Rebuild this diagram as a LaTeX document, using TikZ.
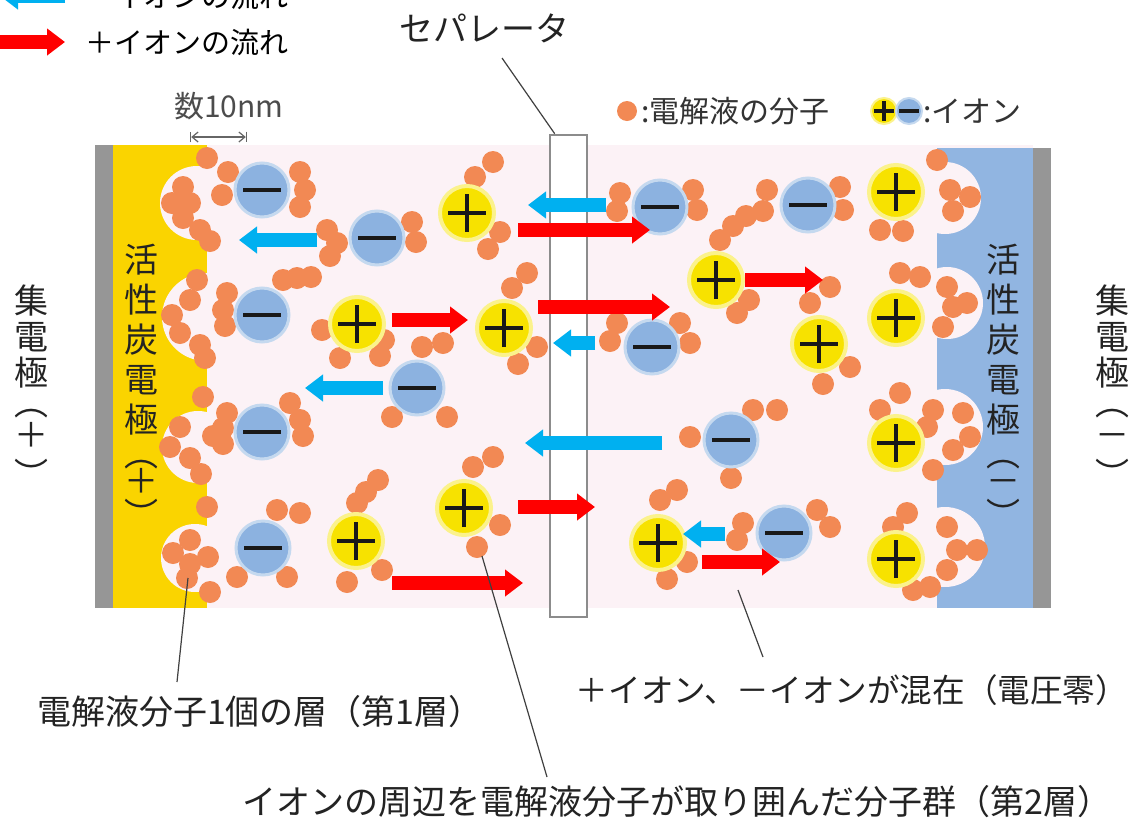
\documentclass[tikz,border=0pt]{standalone}
\usepackage{fontspec}
\setmainfont{Noto Sans CJK JP}
\usetikzlibrary{arrows.meta}

\definecolor{panelpink}{RGB}{252,242,246}
\definecolor{carbonyel}{RGB}{250,212,0}
\definecolor{carbonblue}{RGB}{145,181,225}
\definecolor{collgray}{RGB}{150,150,150}
\definecolor{molorange}{RGB}{242,137,84}
\definecolor{ionyel}{RGB}{247,226,0}
\definecolor{ionblue}{RGB}{140,178,224}
\definecolor{flowred}{RGB}{255,0,0}
\definecolor{flowblue}{RGB}{0,176,240}
\definecolor{inkgray}{RGB}{35,35,35}

\tikzset{
  ion arm/.store in=\ionarm, ion arm=9.5pt,
  ion bar/.style={line width=2.3pt, black!90},
  cation/.style={circle, inner sep=0pt, minimum size=27pt, fill=ionyel, draw=ionyel!45, line width=2pt,
    path picture={\draw[ion bar] ([xshift=-\ionarm]path picture bounding box.center) -- ([xshift=\ionarm]path picture bounding box.center)
      ([yshift=-\ionarm]path picture bounding box.center) -- ([yshift=\ionarm]path picture bounding box.center);}},
  anion/.style={circle, inner sep=0pt, minimum size=27pt, fill=ionblue, draw=ionblue!50, line width=1.5pt,
    path picture={\draw[ion bar] ([xshift=-\ionarm]path picture bounding box.center) -- ([xshift=\ionarm]path picture bounding box.center);}},
  mol/.style={circle, inner sep=0pt, minimum size=11pt, fill=molorange},
  posflow/.style={draw=flowred, line width=7pt, -{Triangle[length=9pt,width=13pt]}},
  negflow/.style={draw=flowblue, line width=7pt, -{Triangle[length=9pt,width=13pt]}},
  sepbox/.style={draw=black!45, line width=1.3pt, fill=white, minimum width=18.5pt, minimum height=241pt, inner sep=0pt},
  leader/.style={draw=black!75, line width=0.6pt},
  lbl/.style={text=inkgray, inner sep=1pt, font=\fontsize{17}{20}\selectfont},
  keylbl/.style={text=black, inner sep=1pt, anchor=west, font=\fontsize{14.5}{17}\selectfont},
  vlbl/.style={text=inkgray, align=center, inner sep=0pt, font=\fontsize{17}{18}\selectfont},
  vcarb/.style={vlbl, font=\fontsize{17}{20}\selectfont},
}

\begin{document}
\begin{tikzpicture}[x=0.5pt,y=-0.5pt]
\useasboundingbox (0,0) rectangle (1132,831);
\fill[white] (0,0) rectangle (1132,831);

% cell
\fill[panelpink] (113,145) rectangle (1033,608);
\fill[collgray] (95,145) rectangle (113,608);
\fill[collgray] (1033,148) rectangle (1051,608);
\fill[carbonyel] (113,145) rectangle (207,608);
\fill[carbonblue] (937,148) rectangle (1033,608);
\begin{scope}
  \clip (113,145) rectangle (207,608);
  \foreach \cx/\cy/\r in {197/203/18.5pt, 206/317/22pt, 198/447/18pt, 195/558/17pt}
    \fill[panelpink] (\cx,\cy) circle[radius=\r];
\end{scope}
\begin{scope}
  \clip (937,148) rectangle (1033,608);
  \foreach \cx/\cy/\r in {945/198/18pt, 947/303/18pt, 945/427/19pt, 945/547/20pt}
    \fill[panelpink] (\cx,\cy) circle[radius=\r];
\end{scope}

\node[sepbox] (sep) at (568.5,376) {};

% electrolyte molecules
\foreach \x/\y [count=\i] in {
  207/158,228/172,222/195,183/187,172/203,190/203,183/218,200/230,210/241,
  300/172,305/190,300/207,
  327/230,337/243,330/256,412/222,416/242,
  227/293,223/310,225/326,283/280,297/278,311/277,
  197/280,190/300,172/315,180/333,200/345,205/358,
  322/330,340/358,384/340,380/356,
  422/347,443/343,392/417,447/417,
  203/397,180/427,170/447,190/458,201/474,213/436,
  227/413,223/428,223/444,290/403,300/420,303/436,
  207/507,190/540,173/553,190/564,208/557,187/578,210/592,
  277/510,300/513,237/577,287/577,
  378/480,366/492,357/503,347/582,382/570,
  493/162,475/177,500/232,488/249,
  527/273,512/288,537/347,518/364,
  620/193,617/211,693/190,697/210,
  720/240,733/226,746/216,737/313,749/300,
  617/323,610/341,680/323,690/343,
  690/437,731/478,753/410,777/410,
  473/467,493/457,500/525,477/547,
  660/500,677/490,687/562,667/579,
  743/523,737/540,817/510,830/527,
  767/190,763/211,840/187,843/210,
  880/230,903/231,937/160,950/190,953/211,970/197,
  830/287,810/303,823/384,850/367,
  900/273,920/277,947/287,953/307,943/327,967/303,
  900/393,880/410,933/410,927/427,963/413,953/450,933/470,970/437,
  907/513,893/527,947/527,957/550,977/550,913/590,930/587,947/570}
  \node[mol] (mol\i) at (\x,\y) {};

% ions
\foreach \x/\y [count=\i] in {262/190,377/238,262/315,417/388,262/432,263/548,
  660/207,652/347,731/440,784/533,808/205}
  \node[anion] (an\i) at (\x,\y) {};
\foreach \x/\y [count=\i] in {467/213,357/324,504/328,464/508,356/541,716/280,
  819/344,658/543,896/192,896/318,896/443,896/559}
  \node[cation] (cat\i) at (\x,\y) {};

% ion flow
\foreach \xa/\xb/\y in {518/650/230, 392/468/320, 538/670/307, 745/823/280,
  518/595/507, 392/523/583, 702/780/562}
  \draw[posflow] (\xa,\y) -- (\xb,\y);
\foreach \xa/\xb/\y in {606/528/205, 317/239/240, 595/553/343, 383/305/388,
  662/525/443, 725/683/534}
  \draw[negflow] (\xa,\y) -- (\xb,\y);

% keys
\node[keylbl] (negkey) at (83,-4) {－イオンの流れ};
\node[keylbl] (poskey) at (83,42) {＋イオンの流れ};
\draw[negflow] (65,-4) -- (0,-4);
\draw[posflow] (0,42) -- (65,42);

\node[mol, minimum size=10pt] (keymol) at (627,111) {};
\node[keylbl, text=black!80, font=\fontsize{15}{18}\selectfont] (keymoltxt) at (639,111) {:電解液の分子};
\node[cation, minimum size=13pt, ion arm=5pt, line width=1pt] (keycat) at (884,111) {};
\node[anion, minimum size=13pt, ion arm=5pt, line width=1pt] (keyan) at (909,111) {};
\node[keylbl, text=black!80, font=\fontsize{15}{18}\selectfont] (keyiontxt) at (921,111) {:イオン};

\node[lbl, text=black!70, font=\fontsize{15}{18}\selectfont] (width) at (229,106) {数10nm};
\draw[black!60, line width=0.6pt, |<->|, >={Straight Barb[length=3pt,width=5pt]}] (190,137) -- (247,137);

% labels
\node[lbl] (seplbl) at (484,28) {セパレータ};
\draw[leader] (502,58) -- ([xshift=3pt]sep.north west);

\node[vlbl] (lcoll) at (32,386) {集\\電\\極\\[-3pt]︵\\[-2pt]＋\\[2pt]︶};
\node[vlbl] (rcoll) at (1112,386) {集\\電\\極\\[-3pt]︵\\[-2pt]－\\[2pt]︶};
\node[vcarb] (lcarb) at (142,386) {活\\性\\炭\\電\\極\\[-3pt]︵\\[-6.5pt]＋\\[-3pt]︶};
\node[vcarb] (rcarb) at (1003,386) {活\\性\\炭\\電\\極\\[-3pt]︵\\[-6.5pt]－\\[-3pt]︶};

\node[lbl] (lay1) at (260,712) {電解液分子1個の層（第1層）};
\node[lbl, font=\fontsize{16.3}{19}\selectfont] (mixlbl) at (852,690) {＋イオン、－イオンが混在（電圧零）};
\node[lbl] (lay2) at (677,802) {イオンの周辺を電解液分子が取り囲んだ分子群（第2層）};

\coordinate (lay1tip) at (188,578);
\coordinate (lay1foot) at (177,682);
\coordinate (lay2tip) at (482,556);
\coordinate (lay2foot) at (547,777);
\coordinate (mixtip) at (738,590);
\coordinate (mixfoot) at (763,657);
\draw[leader] (lay1tip) -- (lay1foot);
\draw[leader] (lay2tip) -- (lay2foot);
\draw[leader] (mixtip) -- (mixfoot);

\end{tikzpicture}
\end{document}
